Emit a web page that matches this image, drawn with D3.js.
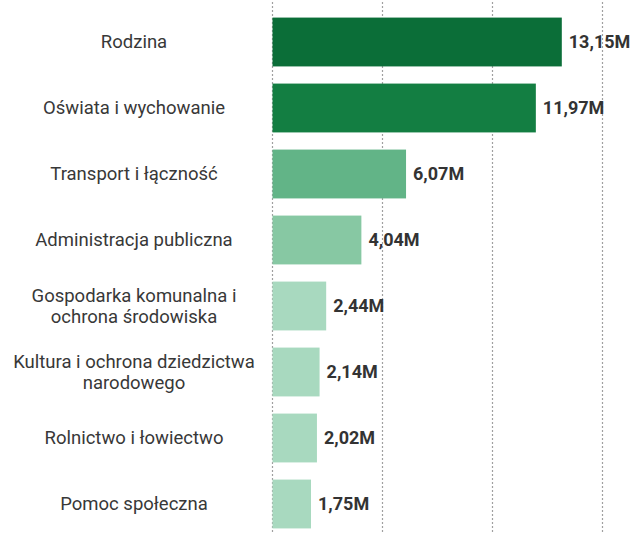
<!DOCTYPE html>
<html>
<head>
<meta charset="utf-8">
<script src="https://cdn.jsdelivr.net/npm/d3@7"></script>
<style>
  html, body { margin: 0; padding: 0; background: #fff; }
  svg { display: block; }
</style>
</head>
<body>
<svg id="chart" width="644" height="534"></svg>
<script>
const categories = [
  ["Rodzina"],
  ["Oświata i wychowanie"],
  ["Transport i łączność"],
  ["Administracja publiczna"],
  ["Gospodarka komunalna i", "ochrona środowiska"],
  ["Kultura i ochrona dziedzictwa", "narodowego"],
  ["Rolnictwo i łowiectwo"],
  ["Pomoc społeczna"]
];
const values = [13.15, 11.97, 6.07, 4.04, 2.44, 2.14, 2.02, 1.75];
const valueLabels = ["13,15M", "11,97M", "6,07M", "4,04M", "2,44M", "2,14M", "2,02M", "1,75M"];
const barColors = ["#0b6e38", "#137e42", "#62b487", "#87c8a3", "#a8d9bf", "#a8d9bf", "#a8d9bf", "#a8d9bf"];
const gridTicks = [0, 5, 10, 15];

const svg = d3.select("#chart");
const keys = categories.map((c, i) => i);

const x = d3.scaleLinear().domain([0, 15]).range([272.5, 602.5]);
const y = d3.scaleBand().domain(keys).range([9, 537]).paddingInner(0.26).paddingOuter(0.13);

// grid
svg.append("g").selectAll("line").data(gridTicks).join("line")
  .attr("x1", d => x(d)).attr("x2", d => x(d))
  .attr("y1", 2).attr("y2", 534)
  .attr("stroke", "#a0a0a0").attr("stroke-width", 1.2)
  .attr("stroke-dasharray", "2,2");

// bars
svg.append("g").selectAll("rect").data(keys).join("rect")
  .attr("x", x(0))
  .attr("y", i => y(i))
  .attr("width", i => x(values[i]) - x(0))
  .attr("height", y.bandwidth())
  .attr("fill", i => barColors[i]);

// value labels
svg.append("g").selectAll("text").data(keys).join("text")
  .attr("x", i => x(values[i]) + 7)
  .attr("y", i => y(i) + y.bandwidth() / 2)
  .attr("dy", "0.35em")
  .attr("font-family", "Roboto, sans-serif")
  .attr("font-weight", "bold")
  .attr("font-size", 18)
  .attr("fill", "#333")
  .text(i => valueLabels[i]);

// category labels
const fs = 18.5;
const cat = svg.append("g").selectAll("text").data(keys).join("text")
  .attr("x", 134)
  .attr("y", i => y(i) + y.bandwidth() / 2)
  .attr("text-anchor", "middle")
  .attr("font-family", "Roboto, sans-serif")
  .attr("font-size", fs)
  .attr("fill", "#383838");
cat.each(function(i) {
  const lines = categories[i];
  const lh = 21.5;
  const start = -(lines.length - 1) * lh / 2;
  d3.select(this).selectAll("tspan").data(lines).join("tspan")
    .attr("x", 134)
    .attr("dy", (d, j) => j === 0 ? (start / fs + 0.35) + "em" : lh + "px")
    .text(d => d);
});
</script>
</body>
</html>
